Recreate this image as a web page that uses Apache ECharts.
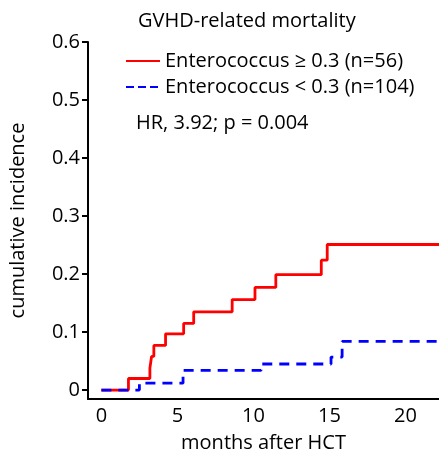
<!DOCTYPE html>
<html>
<head>
<meta charset="utf-8">
<script src="https://cdn.jsdelivr.net/npm/echarts@6/dist/echarts.min.js"></script>
<style>
  html, body { margin: 0; padding: 0; background: #fff; }
  #chart { width: 439px; height: 458px; }
</style>
</head>
<body>
<div id="chart"></div>
<script>
// Cumulative incidence of GVHD-related mortality by Enterococcus domination
const chartTitle = 'GVHD-related mortality';
const seriesNames = ['Enterococcus \u2265 0.3 (n=56)', 'Enterococcus < 0.3 (n=104)'];
const statText = 'HR, 3.92; p = 0.004';

// step points: month of each event and the incidence after it
const highMonths = [0, 1.78, 3.19, 3.30, 3.45, 4.22, 5.41, 6.07, 8.60, 10.10, 11.47, 14.46, 14.85, 22.2];
const highIncidence = [0, 0.020, 0.038, 0.058, 0.077, 0.097, 0.115, 0.135, 0.156, 0.177, 0.199, 0.224, 0.251, 0.251];

const lowMonths = [0, 2.50, 5.37, 10.50, 15.10, 15.83, 22.2];
const lowIncidence = [0, 0.012, 0.034, 0.045, 0.057, 0.084, 0.084];

const xTickValues = [0, 5, 10, 15, 20];
const yTickValues = [0, 0.1, 0.2, 0.3, 0.4, 0.5, 0.6];

const fontFamily = '"Open Sans", "Noto Sans", sans-serif';
const fontSize = 20;

function pairs(xs, ys) {
  return xs.map((x, i) => [x, ys[i]]);
}

const chart = echarts.init(document.getElementById('chart'));
chart.setOption({
  animation: false,
  backgroundColor: '#fff',
  title: {
    text: chartTitle,
    left: 133,
    top: 4,
    textStyle: { fontFamily, fontSize: fontSize, fontWeight: 'normal', color: '#000', lineHeight: 24 }
  },
  legend: {
    orient: 'vertical',
    left: 120,
    top: 46,
    itemWidth: 34,
    itemHeight: 14,
    itemGap: 6,
    data: [
      { name: seriesNames[0] },
      { name: seriesNames[1], lineStyle: { type: [8, 4] } }
    ],
    itemStyle: { opacity: 0 },
    textStyle: { fontFamily, fontSize: fontSize, color: '#000', lineHeight: 18 }
  },
  graphic: [{
    type: 'text',
    left: 136,
    top: 113,
    style: { text: statText, font: fontSize + 'px ' + fontFamily, fill: '#000' }
  }],
  grid: { left: 86, right: 0, top: 42, bottom: 55, containLabel: false },
  xAxis: {
    type: 'value',
    min: -0.88,
    max: 22.2,
    name: 'months after HCT',
    nameLocation: 'middle',
    nameGap: 34,
    nameTextStyle: { fontFamily, fontSize: fontSize, color: '#000' },
    axisLine: { show: true, onZero: false, lineStyle: { color: '#000', width: 2 } },
    axisTick: { show: false },
    splitLine: { show: false },
    axisLabel: {
      customValues: xTickValues,
      margin: 7,
      fontFamily, fontSize: fontSize, color: '#000'
    }
  },
  yAxis: {
    type: 'value',
    min: -0.0153,
    max: 0.6,
    name: 'cumulative incidence',
    nameLocation: 'middle',
    nameGap: 60,
    nameTextStyle: { fontFamily, fontSize: fontSize, color: '#000' },
    axisLine: { show: true, onZero: false, lineStyle: { color: '#000', width: 2 } },
    axisTick: { show: true, customValues: yTickValues, length: 6, lineStyle: { color: '#000', width: 2 } },
    splitLine: { show: false },
    axisLabel: {
      customValues: yTickValues,
      margin: 8,
      fontFamily, fontSize: fontSize, color: '#000',
      formatter: v => (Math.abs(v) < 1e-9 ? '0' : String(Math.round(v * 10) / 10))
    }
  },
  series: [
    {
      name: seriesNames[0],
      type: 'line',
      step: 'end',
      symbol: 'none',
      data: pairs(highMonths, highIncidence),
      lineStyle: { color: '#ff0000', width: 2.8 },
      itemStyle: { color: '#ff0000' },
      z: 2
    },
    {
      name: seriesNames[1],
      type: 'line',
      step: 'end',
      symbol: 'none',
      data: pairs(lowMonths, lowIncidence),
      lineStyle: { color: '#0000ff', width: 2.8, type: [10, 7] },
      itemStyle: { color: '#0000ff' },
      z: 3
    }
  ]
});
</script>
</body>
</html>
